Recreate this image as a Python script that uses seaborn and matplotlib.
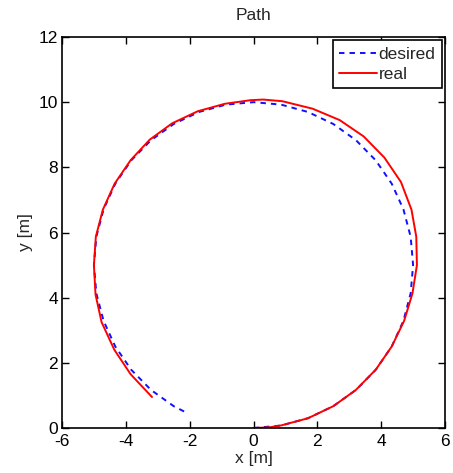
import matplotlib
matplotlib.use("Agg")
import matplotlib.pyplot as plt
import seaborn as sns
import pandas as pd

# desired path
desired_x = [0, 0.868, 1.710, 2.5, 3.214, 3.830, 4.330, 4.698, 4.924, 5.0, 4.924, 4.698, 4.330,
             3.830, 3.214, 2.5, 1.710, 0.868, 0, -0.868, -1.710, -2.5, -3.214, -3.830, -4.330,
             -4.698, -4.924, -5.0, -4.924, -4.698, -4.330, -3.830, -3.214, -2.5, -2.1]
desired_y = [0, 0.076, 0.302, 0.670, 1.170, 1.786, 2.5, 3.290, 4.132, 5.0, 5.868, 6.710, 7.5,
             8.214, 8.830, 9.330, 9.698, 9.924, 10.0, 9.924, 9.698, 9.330, 8.830, 8.214, 7.5,
             6.710, 5.868, 5.0, 4.132, 3.290, 2.5, 1.786, 1.170, 0.670, 0.47]

# real path
real_x = [0, 0.5, 0.87, 1.71, 2.5, 3.21, 3.83, 4.33, 4.72, 4.98, 5.12, 5.1, 4.95, 4.62, 4.1,
          3.45, 2.7, 1.85, 0.9, 0.3, -0.1, -0.9, -1.75, -2.55, -3.25, -3.85, -4.35, -4.72,
          -4.94, -5.0, -4.95, -4.76, -4.36, -3.85, -3.18]
real_y = [0, 0.02, 0.08, 0.30, 0.67, 1.17, 1.79, 2.5, 3.29, 4.13, 5.0, 5.87, 6.7, 7.55, 8.3,
          8.95, 9.45, 9.8, 10.03, 10.08, 10.06, 9.95, 9.72, 9.35, 8.85, 8.22, 7.5, 6.7,
          5.87, 5.0, 4.1, 3.25, 2.4, 1.65, 0.95]

x_ticks = [-6, -4, -2, 0, 2, 4, 6]
y_ticks = [0, 2, 4, 6, 8, 10, 12]

sns.set_style("white")
plt.rcParams['font.family'] = ['Liberation Sans', 'DejaVu Sans']

fig = plt.figure(figsize=(4.53, 4.73), dpi=100)
ax = fig.add_axes([62/453, 45/473, 383/453, 391/473])

df_d = pd.DataFrame({"x": desired_x, "y": desired_y})
df_r = pd.DataFrame({"x": real_x, "y": real_y})
sns.lineplot(data=df_d, x="x", y="y", sort=False, estimator=None, ax=ax,
             color="#1010ff", linestyle=(0, (2.8, 2.6)), linewidth=1.4, label="desired")
sns.lineplot(data=df_r, x="x", y="y", sort=False, estimator=None, ax=ax,
             color="#ff0000", linewidth=1.4, label="real")

ax.set_xlim(-6, 6)
ax.set_ylim(0, 12)
ax.set_xticks(x_ticks)
ax.set_yticks(y_ticks)
ax.set_xticklabels([str(t) for t in x_ticks])
ax.set_yticklabels([str(t) for t in y_ticks])
ax.tick_params(direction="in", length=5, width=1, top=True, right=True,
               bottom=True, left=True, labelsize=12.5, colors="black")
ax.tick_params(axis="x", pad=4)
ax.tick_params(axis="y", pad=3)
for s in ax.spines.values():
    s.set_color("black")
    s.set_linewidth(1.2)

ax.set_xlabel("x [m]", fontsize=12.5, labelpad=2)
ax.set_ylabel("y [m]", fontsize=12.5, labelpad=4)
ax.set_title("Path", fontsize=12.5, pad=12)

leg = ax.legend(loc="upper right", fontsize=12.5, frameon=True, fancybox=False,
                edgecolor="black", framealpha=1, borderaxespad=0.2,
                handlelength=2.2, handletextpad=0.1, borderpad=0.35, labelspacing=0.3)
leg.get_frame().set_linewidth(1.2)

fig.savefig("out.png", dpi=100)
